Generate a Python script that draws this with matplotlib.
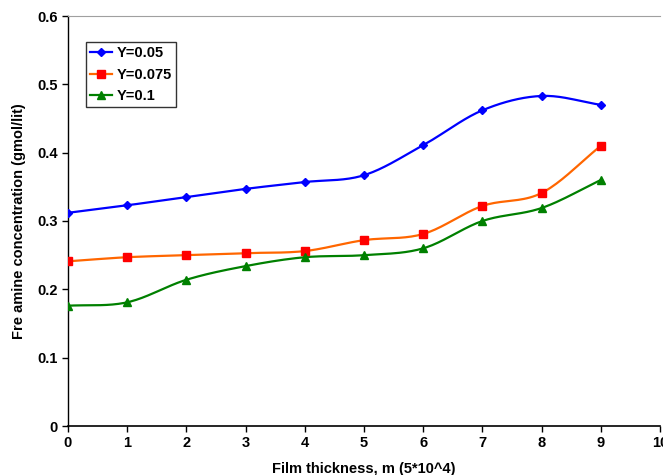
import numpy as np
import matplotlib
matplotlib.use("Agg")
import matplotlib.pyplot as plt
from matplotlib import font_manager

x_vals = [0, 1, 2, 3, 4, 5, 6, 7, 8, 9]
y005 = [0.312, 0.323, 0.335, 0.347, 0.357, 0.367, 0.411, 0.462, 0.483, 0.470]
y0075 = [0.241, 0.247, 0.250, 0.253, 0.256, 0.272, 0.281, 0.322, 0.341, 0.410]
y01 = [0.176, 0.181, 0.214, 0.234, 0.247, 0.250, 0.260, 0.300, 0.319, 0.360]
labels = ["Y=0.05", "Y=0.075", "Y=0.1"]

names = {f.name for f in font_manager.fontManager.ttflist}
fam = ["Liberation Sans Narrow", "Liberation Sans", "DejaVu Sans"]
fam = [f for f in fam if f in names] or ["DejaVu Sans"]
plt.rcParams['font.family'] = fam
plt.rcParams['font.weight'] = 'bold'


def smooth(x, y, n=20):
    x = np.asarray(x, float); y = np.asarray(y, float)
    px = np.concatenate([[2 * x[0] - x[1]], x, [2 * x[-1] - x[-2]]])
    py = np.concatenate([[2 * y[0] - y[1]], y, [2 * y[-1] - y[-2]]])
    xs, ys = [], []
    t = np.linspace(0, 1, n, endpoint=False)
    for i in range(1, len(px) - 2):
        p0, p1, p2, p3 = px[i - 1], px[i], px[i + 1], px[i + 2]
        q0, q1, q2, q3 = py[i - 1], py[i], py[i + 1], py[i + 2]
        b1x = p1 + (p2 - p0) / 6; b2x = p2 - (p3 - p1) / 6
        b1y = q1 + (q2 - q0) / 6; b2y = q2 - (q3 - q1) / 6
        xs.append((1 - t) ** 3 * p1 + 3 * (1 - t) ** 2 * t * b1x + 3 * (1 - t) * t ** 2 * b2x + t ** 3 * p2)
        ys.append((1 - t) ** 3 * q1 + 3 * (1 - t) ** 2 * t * b1y + 3 * (1 - t) * t ** 2 * b2y + t ** 3 * q2)
    xs.append([x[-1]]); ys.append([y[-1]])
    return np.concatenate(xs), np.concatenate(ys)


fig = plt.figure(figsize=(6.63, 4.75), dpi=100)
ax = fig.add_axes([68 / 663, 1 - 426 / 475, 592 / 663, 410 / 475])

series = [
    (y005, "#0000FF", "#0000FF", "D", 4.5),
    (y0075, "#FF6600", "#FF0000", "s", 5.5),
    (y01, "#008000", "#008000", "^", 5.5),
]
handles = []
for (ys, lc, mc, mk, ms), lab in zip(series, labels):
    sx, sy = smooth(x_vals, ys)
    ax.plot(sx, sy, color=lc, lw=1.6, zorder=2)
    ax.plot(x_vals, ys, ls="none", marker=mk, ms=ms, color=mc, zorder=3)
    h, = ax.plot([], [], color=lc, lw=1.6, marker=mk, ms=ms, mfc=mc, mec=mc)
    h.set_label(lab)
    handles.append(h)

ax.set_xlim(0, 10)
ax.set_ylim(0, 0.6)
ax.set_xticks(range(0, 11))
ax.set_yticks([0, 0.1, 0.2, 0.3, 0.4, 0.5, 0.6])
ax.set_yticklabels(["0", "0.1", "0.2", "0.3", "0.4", "0.5", "0.6"])
ax.tick_params(labelsize=10.5, length=4, width=1, color="black")
for t in ax.get_xticklabels() + ax.get_yticklabels():
    t.set_fontweight("bold")
ax.spines["right"].set_visible(False)
ax.spines["top"].set_color("#a0a0a0")
ax.spines["left"].set_linewidth(1)
ax.spines["bottom"].set_linewidth(1.2)

ax.set_xlabel("Film thickness, m (5*10^4)", fontsize=10.5, fontweight="bold", labelpad=8)
ax.set_ylabel("Fre amine concentration (gmol/lit)", fontsize=10.5, fontweight="bold", labelpad=8)

leg = ax.legend(handles=handles, loc="upper left", bbox_to_anchor=(18 / 592, 1 - 26 / 410),
                borderaxespad=0, frameon=True, fancybox=False, edgecolor="black",
                handlelength=1.5, borderpad=0.3, labelspacing=0.5, handletextpad=0.3,
                prop={"weight": "bold", "size": 10.5})
leg.get_frame().set_linewidth(1)

fig.savefig("out.png", dpi=100)
